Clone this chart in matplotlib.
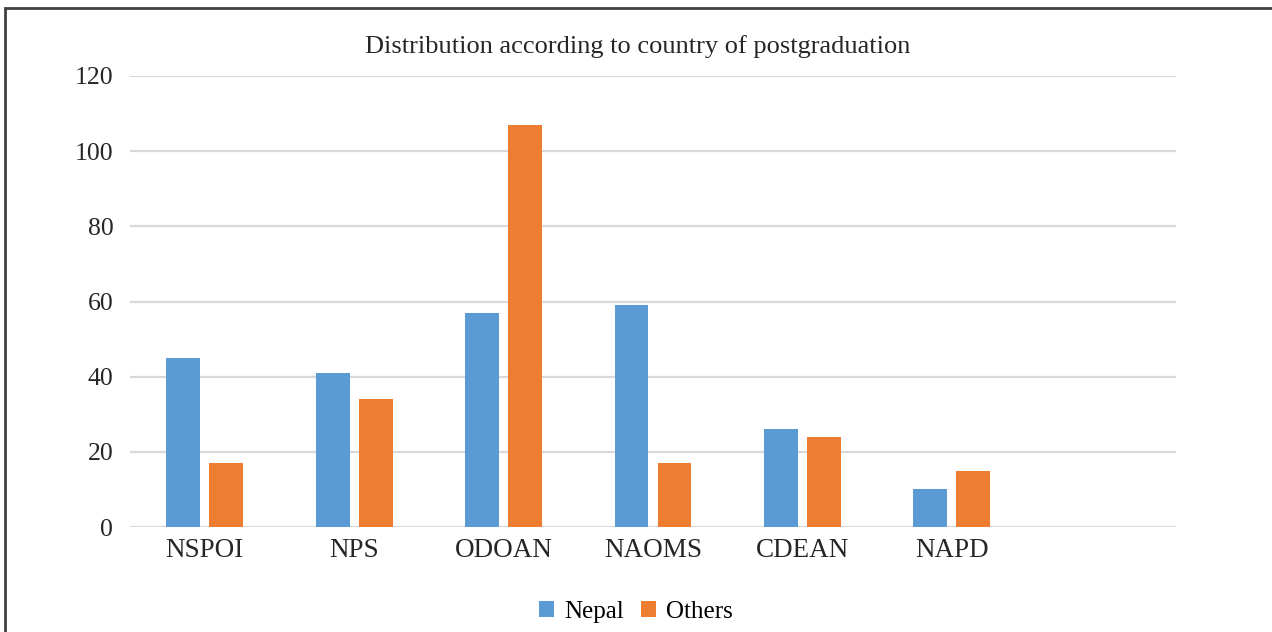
import numpy as np
import matplotlib
matplotlib.use("Agg")
import matplotlib.pyplot as plt
from matplotlib.patches import Rectangle

plt.rcParams["font.family"] = ["Liberation Serif", "DejaVu Serif"]

categories = ["NSPOI", "NPS", "ODOAN", "NAOMS", "CDEAN", "NAPD"]
nepal = [45, 41, 57, 59, 26, 10]
others = [17, 34, 107, 17, 24, 15]

fig = plt.figure(figsize=(12.72, 6.32), dpi=100)
ax = fig.add_axes([130/1272, 105/632, 1046/1272, 451/632])

x = np.arange(len(categories)); w = 0.227; off = 0.144
ax.bar(x - off, nepal, w, color="#5B9BD5", label="Nepal", zorder=3)
ax.bar(x + off, others, w, color="#ED7D31", label="Others", zorder=3)

ax.set_xlim(-0.5, 6.5); ax.set_ylim(0, 120)
ax.set_yticks(range(0, 121, 20))
ax.set_xticks(x); ax.set_xticklabels(categories)
ax.tick_params(axis="y", length=0, labelsize=18.5, pad=12, colors="#262626")
ax.tick_params(axis="x", length=0, labelsize=19.5, pad=8, colors="#262626")
ax.grid(axis="y", color="#d9d9d9", linewidth=1.6, zorder=0)
for s in ax.spines.values():
    s.set_visible(False)

fig.text(638/1272, 1 - 47/632, "Distribution according to country of postgraduation",
         ha="center", va="center", fontsize=19, color="#262626")
fig.legend(loc="center", bbox_to_anchor=(636/1272, 1 - 612/632), ncol=2,
           frameon=False, fontsize=18, handlelength=0.6, handleheight=0.6,
           handletextpad=0.4, columnspacing=0.7)

# chart frame (cut off at right and bottom)
fig.patches.append(Rectangle((5/1272, -0.1), 1.2, 1 - 8/632 + 0.1,
                             transform=fig.transFigure, fill=False,
                             edgecolor="#404040", linewidth=2))

plt.savefig("out.png", dpi=100)
plt.close()
